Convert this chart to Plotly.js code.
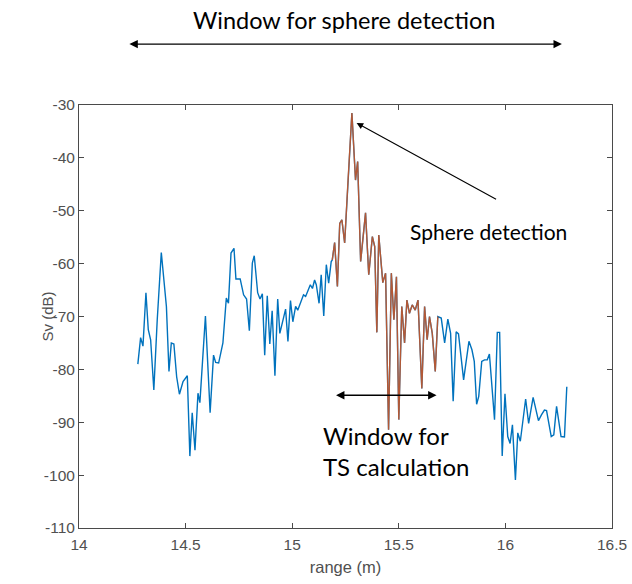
<!DOCTYPE html>
<html>
<head>
<meta charset="utf-8">
<script src="https://cdn.plot.ly/plotly-3.0.1.min.js"></script>
<style>
  html, body { margin: 0; padding: 0; background: #fff; }
  #chart { width: 632px; height: 584px; }
</style>
</head>
<body>
<div id="chart"></div>
<script>
// Echo profile: range (m) and volume backscatter Sv (dB)
const range = [
  14.276, 14.289, 14.300, 14.314, 14.325, 14.336, 14.351, 14.367, 14.386, 14.410,
  14.422, 14.433, 14.445, 14.458, 14.471, 14.488, 14.508, 14.520, 14.531, 14.544,
  14.558, 14.567, 14.593, 14.615, 14.631, 14.641, 14.655, 14.675, 14.691, 14.701,
  14.713, 14.727, 14.736, 14.756, 14.772, 14.786, 14.799, 14.813, 14.822, 14.838,
  14.849, 14.860, 14.871, 14.883, 14.895, 14.906, 14.919, 14.932, 14.942, 14.957,
  14.969, 14.980, 14.992, 15.003, 15.016, 15.026, 15.043, 15.053, 15.063, 15.074,
  15.085, 15.095, 15.105, 15.113, 15.126, 15.136, 15.148, 15.160, 15.171, 15.183,
  15.188, 15.199, 15.212, 15.223, 15.233, 15.246, 15.262, 15.280, 15.297, 15.307,
  15.321, 15.344, 15.359, 15.376, 15.387, 15.397, 15.406, 15.425, 15.438, 15.452,
  15.465, 15.477, 15.489, 15.500, 15.514, 15.527, 15.538, 15.550, 15.563, 15.577,
  15.590, 15.608, 15.621, 15.633, 15.644, 15.657, 15.671, 15.683, 15.699, 15.715,
  15.730, 15.743, 15.755, 15.769, 15.780, 15.804, 15.829, 15.843, 15.854, 15.865,
  15.875, 15.889, 15.902, 15.915, 15.925, 15.936, 15.949, 15.962, 15.973, 15.985,
  15.998, 16.011, 16.022, 16.033, 16.047, 16.058, 16.070, 16.095, 16.109, 16.130,
  16.146, 16.155, 16.169, 16.183, 16.193, 16.215, 16.227, 16.240, 16.261, 16.277,
  16.288
];
const sv = [
  -79.0, -74.0, -75.6, -65.5, -72.5, -74.4, -83.9, -70.6, -57.9, -68.1,
  -80.4, -75.0, -75.2, -81.4, -84.7, -82.3, -81.2, -96.4, -88.2, -95.3,
  -84.5, -86.3, -69.9, -88.2, -77.3, -78.7, -78.8, -75.0, -66.5, -67.5,
  -58.0, -57.1, -62.9, -62.9, -65.9, -66.7, -72.7, -59.9, -58.5, -65.5,
  -66.7, -65.7, -77.3, -66.1, -75.2, -68.9, -81.2, -66.7, -73.2, -70.5,
  -68.6, -74.7, -67.0, -71.0, -68.1, -68.8, -66.9, -65.9, -66.2, -65.0,
  -64.0, -64.7, -63.1, -64.0, -67.5, -62.1, -69.9, -60.2, -63.7, -59.6,
  -59.3, -56.0, -64.3, -52.4, -51.7, -56.1, -44.2, -31.5, -44.2, -40.7,
  -59.6, -50.4, -62.1, -54.9, -56.8, -73.0, -54.6, -63.6, -61.8, -91.4,
  -61.8, -70.6, -62.5, -89.5, -68.1, -75.0, -66.9, -69.4, -67.8, -68.8,
  -66.9, -83.6, -68.1, -74.4, -70.0, -73.2, -80.4, -70.0, -70.3, -75.0,
  -70.5, -73.2, -86.0, -72.9, -73.3, -82.0, -74.7, -76.3, -78.5, -86.6,
  -85.1, -78.5, -78.2, -78.2, -77.1, -83.6, -89.5, -73.0, -73.0, -96.4,
  -84.6, -92.7, -94.0, -90.5, -100.9, -92.0, -93.6, -85.6, -90.2, -85.3,
  -88.2, -89.7, -88.6, -87.7, -87.8, -92.7, -92.4, -87.0, -92.7, -92.8,
  -83.3
];

// Samples used for the TS calculation (highlighted segment)
const tsWindow = [15.188, 15.683];

const xTicks = [14, 14.5, 15, 15.5, 16, 16.5];
const xTickText = ['14', '14.5', '15', '15.5', '16', '16.5'];
const yTicks = [-110, -100, -90, -80, -70, -60, -50, -40, -30];
const yTickText = ['-110', '-100', '-90', '-80', '-70', '-60', '-50', '-40', '-30'];

const tsRange = [], tsSv = [];
range.forEach((r, i) => {
  if (r >= tsWindow[0] && r <= tsWindow[1]) { tsRange.push(r); tsSv.push(sv[i]); }
});

const traces = [
  { x: range, y: sv, type: 'scatter', mode: 'lines',
    line: { color: '#0072BD', width: 1.4 }, hoverinfo: 'skip' },
  { x: tsRange, y: tsSv, type: 'scatter', mode: 'lines', opacity: 0.82,
    line: { color: '#D95319', width: 1.4 }, hoverinfo: 'skip' }
];

const axisFont = 'Liberation Sans, Arial, sans-serif';
const axisCommon = {
  showgrid: false, zeroline: false, showline: true, mirror: 'allticks',
  linecolor: '#4a4a4a', linewidth: 1, ticks: 'inside', ticklen: 5,
  tickcolor: '#4a4a4a', tickwidth: 1,
  tickfont: { family: axisFont, size: 15.5, color: '#505050' }
};

const annFont = { family: 'Lato, Open Sans, sans-serif', color: '#000' };

const layout = {
  width: 632, height: 584,
  margin: { l: 79, r: 20, t: 105, b: 56 },
  paper_bgcolor: '#fff', plot_bgcolor: '#fff',
  showlegend: false,
  xaxis: Object.assign({}, axisCommon, {
    range: [14, 16.5], tickvals: xTicks, ticktext: xTickText,
    ticklabelstandoff: 2,
    title: { text: 'range (m)', standoff: 9,
      font: { family: axisFont, size: 16.5, color: '#505050' } }
  }),
  yaxis: Object.assign({}, axisCommon, {
    range: [-110, -30], tickvals: yTicks, ticktext: yTickText
  }),
  annotations: [
    // y-axis title, set close to the tick labels
    { xref: 'paper', yref: 'paper', x: -0.060, y: 0.5, xanchor: 'center', yanchor: 'middle',
      text: 'Sv (dB)', textangle: -90, showarrow: false,
      font: { family: axisFont, size: 15, color: '#505050' } },
    { xref: 'paper', yref: 'paper', x: 0.498, y: 1.20, yanchor: 'middle',
      text: 'Window for sphere detection', showarrow: false,
      font: Object.assign({ size: 23.5 }, annFont) },
    { xref: 'paper', yref: 'paper', x: 0.906, y: 1.144, text: '',
      showarrow: true, arrowside: 'end+start', ax: -434, ay: 0,
      arrowhead: 2, arrowsize: 1.2, arrowwidth: 1.4, arrowcolor: '#000' },
    { xref: 'x', yref: 'y', x: 15.921, y: -54.0,
      text: 'Sphere detection', showarrow: false,
      font: Object.assign({ size: 21 }, annFont) },
    { xref: 'x', yref: 'y', x: 15.302, y: -33.4, text: '',
      showarrow: true, arrowside: 'end', ax: 141, ay: 77,
      arrowhead: 2, arrowsize: 1.2, arrowwidth: 1.1, arrowcolor: '#000' },
    { xref: 'x', yref: 'y', x: 15.677, y: -84.9, text: '',
      showarrow: true, arrowside: 'end+start', ax: -102, ay: 0,
      arrowhead: 2, arrowsize: 1.2, arrowwidth: 1.4, arrowcolor: '#000' },
    { xref: 'x', yref: 'y', x: 15.133, y: -92.5, xanchor: 'left', yanchor: 'middle',
      text: 'Window for', showarrow: false,
      font: Object.assign({ size: 24 }, annFont) },
    { xref: 'x', yref: 'y', x: 15.133, y: -98.3, xanchor: 'left', yanchor: 'middle',
      text: 'TS calculation', showarrow: false,
      font: Object.assign({ size: 24 }, annFont) }
  ]
};

Plotly.newPlot('chart', traces, layout, { staticPlot: true, displayModeBar: false });
</script>
</body>
</html>
